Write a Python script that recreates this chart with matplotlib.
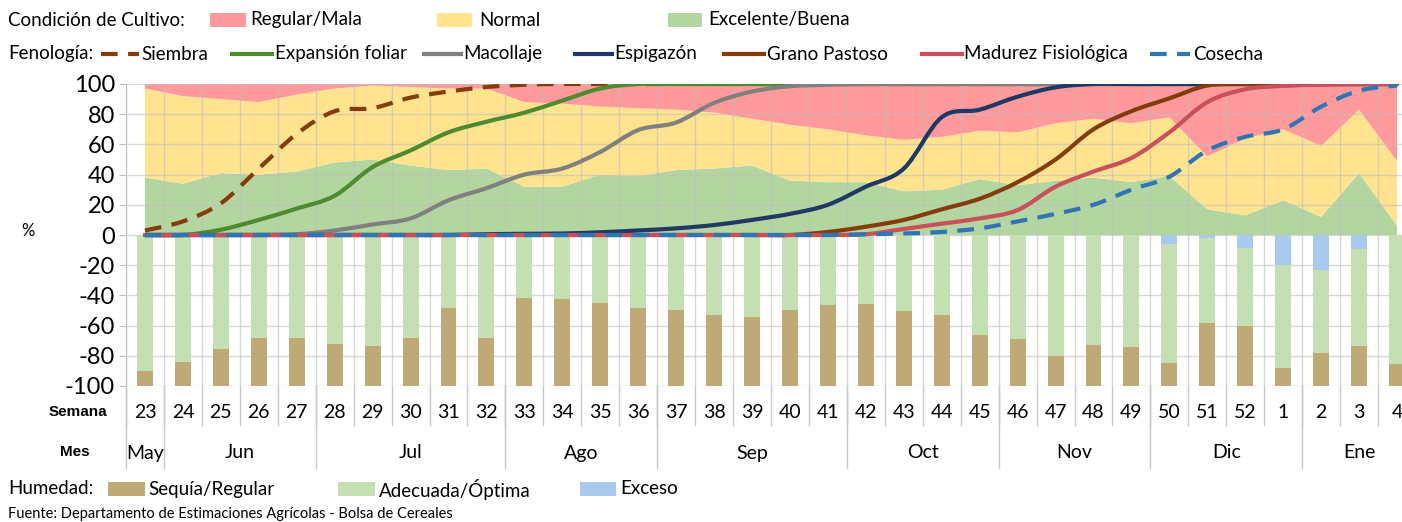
import matplotlib
matplotlib.use('Agg')
import matplotlib.pyplot as plt
from matplotlib.patches import Rectangle, PathPatch
from matplotlib.lines import Line2D
from matplotlib.path import Path
import matplotlib.transforms as mtrans
import numpy as np

plt.rcParams['font.family'] = ['Lato', 'DejaVu Sans']

# ---------------- data ----------------
weeks = [23, 24, 25, 26, 27, 28, 29, 30, 31, 32, 33, 34, 35, 36, 37, 38, 39, 40, 41,
         42, 43, 44, 45, 46, 47, 48, 49, 50, 51, 52, 1, 2, 3, 4]
months = ['May', 'Jun', 'Jul', 'Ago', 'Sep', 'Oct', 'Nov', 'Dic', 'Ene']
month_weeks = [1, 4, 5, 4, 5, 4, 4, 4, 3]

# Condición de cultivo (%)
excelente = [38, 34, 41, 40, 42, 48, 50, 46, 43, 44, 32, 32, 40, 39, 43, 44, 46, 36, 35,
             35, 29, 30, 37, 33, 36, 38, 35, 39, 17, 13, 23, 12, 41, 6]
normal = [59, 58, 49, 48, 51, 49, 49, 52, 54, 53, 56, 55, 45, 45, 40, 37, 31, 37, 35,
          31, 34, 35, 32, 35, 38, 39, 39, 39, 35, 51, 47, 47, 42, 43]
regular = [3, 8, 10, 12, 7, 3, 1, 2, 3, 3, 12, 13, 15, 16, 17, 19, 23, 27, 30,
           34, 37, 35, 31, 32, 26, 23, 26, 22, 48, 36, 30, 41, 17, 51]

# Fenología (% acumulado)
siembra = [3, 9, 21, 44, 67, 82, 84, 91, 95, 98, 99.5, 100, 100, 100, 100, 100, 100, 100, 100,
           100, 100, 100, 100, 100, 100, 100, 100, 100, 100, 100, 100, 100, 100, 100]
expansion = [0, 0, 3.5, 10, 17.5, 26, 45, 56, 68, 75, 81, 89, 97, 100, 100, 100, 100, 100, 100,
             100, 100, 100, 100, 100, 100, 100, 100, 100, 100, 100, 100, 100, 100, 100]
macollaje = [0, 0, 0, 0, 0.5, 3, 7, 11, 23, 31, 40, 44, 55, 69.5, 74.5, 87.5, 95, 98.5, 99.5,
             100, 100, 100, 100, 100, 100, 100, 100, 100, 100, 100, 100, 100, 100, 100]
espigazon = [0, 0, 0, 0, 0, 0, 0, 0, 0, 0.5, 0.8, 1, 1.8, 3, 4.4, 6.6, 10, 14, 20,
             32, 44, 78, 83, 91.6, 97.8, 100, 100, 100, 100, 100, 100, 100, 100, 100]
grano = [0, 0, 0, 0, 0, 0, 0, 0, 0, 0, 0, 0, 0, 0, 0, 0, 0, 0, 2,
         5.5, 10, 17, 24, 35, 50, 70, 82, 90.5, 99, 100, 100, 100, 100, 100]
madurez = [0, 0, 0, 0, 0, 0, 0, 0, 0, 0, 0, 0, 0, 0, 0, 0, 0, 0, 0,
           0.5, 4, 7.5, 11, 16.5, 32, 42, 51, 68, 88, 96.5, 98.7, 99.5, 100, 100]
cosecha = [0, 0, 0, 0, 0, 0, 0, 0, 0, 0, 0, 0, 0, 0, 0, 0, 0, 0, 0,
           0.5, 1, 2, 4.4, 9, 14, 20, 30, 38.6, 56, 65, 70, 85, 95.6, 99]

# Humedad (%)
sequia = [10, 16, 24.5, 31.5, 31.5, 27.5, 26.5, 31.5, 51.5, 31.5, 58, 57.5, 55, 51.5, 50.5,
          47, 45.5, 50.5, 53.5, 54.5, 49.5, 47, 34, 31, 20, 27, 25.5, 15, 42, 39.5, 12, 22,
          26.5, 14.5]
adecuada = [90, 84, 75.5, 68.5, 68.5, 72.5, 73.5, 68.5, 48.5, 68.5, 42, 42.5, 45, 48.5, 49.5,
            53, 54.5, 49.5, 46.5, 45.5, 50.5, 53, 66, 69, 80, 73, 74.5, 79, 56, 52, 68, 54.5,
            64, 85.5]
exceso = [0, 0, 0, 0, 0, 0, 0, 0, 0, 0, 0, 0, 0, 0, 0, 0, 0, 0, 0, 0, 0, 0, 0, 0, 0, 0, 0,
          6, 2, 8.5, 20, 23.5, 9.5, 0]

# ---------------- styles ----------------
C_RED, C_YEL, C_GRN = '#FF999B', '#FFE38F', '#B3D59F'
C_SEQ, C_ADE, C_EXC = '#BEA977', '#C4E0B2', '#A9CAEC'
phen = [
    ('Siembra', siembra, '#843C0C', True),
    ('Expansión foliar', expansion, '#4E8B2F', False),
    ('Macollaje', macollaje, '#808080', False),
    ('Espigazón', espigazon, '#1F3864', False),
    ('Grano Pastoso', grano, '#843C0C', False),
    ('Madurez Fisiológica', madurez, '#C9505A', False),
    ('Cosecha', cosecha, '#2E75B6', True),
]
DASH = (4, 2.5)
LW = 3.0

W, H = 1402, 522
fig = plt.figure(figsize=(W / 100, H / 100), dpi=100)


def fx(px):
    return px / W


def fy(py):
    return 1 - py / H


def smooth_path(xs, ys):
    """Smoothed (Excel-like) curve through the data points, in data coordinates."""
    pts = np.column_stack([np.asarray(xs, float), np.asarray(ys, float)])
    verts = [pts[0]]
    codes = [Path.MOVETO]
    m = len(pts)
    for i in range(m - 1):
        p0 = pts[i - 1] if i > 0 else pts[i]
        p1 = pts[i]
        p2 = pts[i + 1]
        p3 = pts[i + 2] if i + 2 < m else pts[i + 1]
        c1 = p1 + (p2 - p0) / 6.0
        c2 = p2 - (p3 - p1) / 6.0
        verts += [c1, c2, p2]
        codes += [Path.CURVE4] * 3
    return Path(verts, codes)


AX_L, AX_R, AX_T, AX_B = 126, 1416, 84, 386
ax = fig.add_axes([fx(AX_L), fy(AX_B), fx(AX_R) - fx(AX_L), fy(AX_T) - fy(AX_B)])
n = len(weeks)
x = np.arange(n)

ax.stackplot(x, excelente, normal, regular, colors=[C_GRN, C_YEL, C_RED],
             linewidth=0, zorder=1)

# grid
for v in range(-100, 101, 20):
    ax.axhline(v, color='#BFBFBF', lw=1, alpha=0.6, zorder=2)
bounds = np.arange(-0.5, n + 0.5, 1)
for b in bounds:
    ax.axvline(b, color='#BFBFBF', lw=1, alpha=0.6, zorder=2)

# humedad bars (downwards)
bw = 0.42
exc = np.array(exceso, dtype=float)
ade = np.array(adecuada, dtype=float)
seq = np.array(sequia, dtype=float)
ax.bar(x, -exc, width=bw, color=C_EXC, zorder=3, linewidth=0)
ax.bar(x, -ade, bottom=-exc, width=bw, color=C_ADE, zorder=3, linewidth=0)
ax.bar(x, -seq, bottom=-(exc + ade), width=bw, color=C_SEQ, zorder=3, linewidth=0)

# phenology lines (smoothed)
for name, vals, col, dashed in phen:
    pp = PathPatch(smooth_path(x, vals), fill=False, edgecolor=col, lw=LW,
                   linestyle=(0, DASH) if dashed else '-',
                   capstyle='butt' if dashed else 'round', joinstyle='round',
                   zorder=4)
    ax.add_patch(pp)

ax.set_xlim(-0.5, n - 0.5)
ax.set_ylim(-100, 100)
ax.set_yticks(range(-100, 101, 20))
ax.set_yticklabels([str(v) for v in range(-100, 101, 20)], fontsize=17)
ax.tick_params(axis='y', direction='out', length=5, color='#BFBFBF', pad=3)
ax.set_xticks([])
for s in ['top', 'right', 'bottom']:
    ax.spines[s].set_visible(False)
ax.spines['left'].set_color('#BFBFBF')

# table below the axis
trans = mtrans.blended_transform_factory(ax.transData, ax.transAxes)
axh = AX_B - AX_T


def ya(py):
    return (AX_B - py) / axh


for i, w in enumerate(weeks):
    ax.text(i, ya(412), str(w), transform=trans, ha='center', va='center',
            fontsize=14, clip_on=False)
for b in bounds:
    ax.plot([b, b], [0, ya(425)], transform=trans, color='#C8C8C8', lw=1, clip_on=False)
start = 0
mbounds = [-0.5]
for m, k in zip(months, month_weeks):
    ax.text(start + (k - 1) / 2, ya(453), m, transform=trans, ha='center', va='center',
            fontsize=14, clip_on=False)
    start += k
    mbounds.append(start - 0.5)
for b in mbounds:
    ax.plot([b, b], [0, ya(468)], transform=trans, color='#C8C8C8', lw=1, clip_on=False)

fig.text(fx(78), fy(412), 'Semana', ha='center', va='center', fontsize=11,
         fontweight='bold', family=['Liberation Sans', 'DejaVu Sans'])
fig.text(fx(75), fy(452), 'Mes', ha='center', va='center', fontsize=11,
         fontweight='bold', family=['Liberation Sans', 'DejaVu Sans'])
fig.text(fx(28), fy(231), '%', ha='center', va='center', fontsize=12)

# ---------------- legends ----------------
LFS = 13.5


def patch(x0, x1, yc, color):
    fig.patches.append(Rectangle((fx(x0), fy(yc + 7)), fx(x1) - fx(x0), fy(yc - 7) - fy(yc + 7),
                                 transform=fig.transFigure, color=color, lw=0))


def lsample(x0, x1, yc, color, dashed):
    ln = Line2D([fx(x0), fx(x1)], [fy(yc), fy(yc)], transform=fig.transFigure,
                color=color, lw=LW)
    if dashed:
        ln.set_dashes(DASH)
        ln.set_dash_capstyle('butt')
    fig.add_artist(ln)


# row 1
y1 = 20
fig.text(fx(8), fy(y1), 'Condición de Cultivo:', ha='left', va='center', fontsize=LFS)
for (p0, p1, t0, lab, col) in [(210, 246, 250, 'Regular/Mala', C_RED),
                               (437, 472, 479, 'Normal', C_YEL),
                               (668, 702, 708, 'Excelente/Buena', C_GRN)]:
    patch(p0, p1, y1, col)
    fig.text(fx(t0), fy(y1), lab, ha='left', va='center', fontsize=LFS)

# row 2
y2 = 54
fig.text(fx(8), fy(y2), 'Fenología:', ha='left', va='center', fontsize=LFS)
lpos = [(101, 139, 141), (232, 272, 275), (424, 461, 463), (575, 612, 614),
        (724, 764, 767), (922, 962, 964), (1150, 1190, 1193)]
for (l0, l1, t0), (name, vals, col, dashed) in zip(lpos, phen):
    lsample(l0, l1, y2, col, dashed)
    fig.text(fx(t0), fy(y2), name, ha='left', va='center', fontsize=LFS)

# row 3
y3 = 489
fig.text(fx(8), fy(y3), 'Humedad:', ha='left', va='center', fontsize=LFS)
for (p0, p1, t0, lab, col) in [(108, 145, 148, 'Sequía/Regular', C_SEQ),
                               (338, 375, 379, 'Adecuada/Óptima', C_ADE),
                               (580, 616, 620, 'Exceso', C_EXC)]:
    patch(p0, p1, y3, col)
    fig.text(fx(t0), fy(y3), lab, ha='left', va='center', fontsize=LFS)

fig.text(fx(8), fy(514), 'Fuente: Departamento de Estimaciones Agrícolas - Bolsa de Cereales',
         ha='left', va='center', fontsize=10.5)

fig.savefig('out.png', dpi=100)
